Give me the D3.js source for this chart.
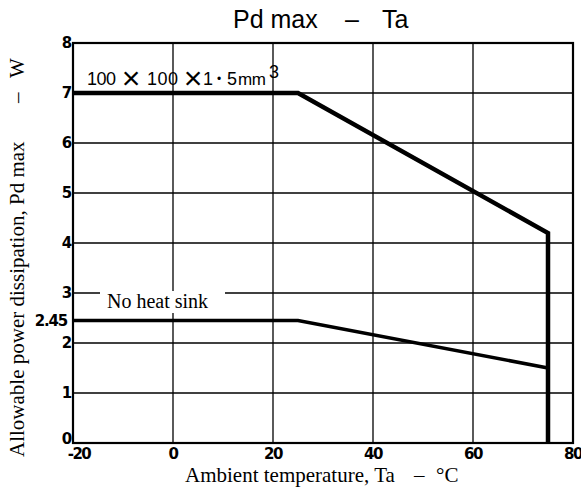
<!DOCTYPE html>
<html><head><meta charset="utf-8">
<script src="https://cdn.jsdelivr.net/npm/d3@7"></script>
<style>body{margin:0;background:#fff}</style>
</head><body>
<svg id="c" width="581" height="488"></svg>
<script>
const xTicks = [-20, 0, 20, 40, 60, 80];
const yTicks = [0, 1, 2, 3, 4, 5, 6, 7, 8];
const extraYTick = [2.45];
const heatsinkTa = [-20, 25, 75, 75];
const heatsinkPd = [7, 7, 4.2, 0];
const noSinkTa = [-20, 25, 75];
const noSinkPd = [2.45, 2.45, 1.5];

const svg = d3.select("#c");
const x = d3.scaleLinear().domain([-20, 80]).range([73, 573]);
const y = d3.scaleLinear().domain([0, 8]).range([443, 43]);
const serif = "'Liberation Serif', 'Times New Roman', serif";
const sans = "'Liberation Sans', Arial, sans-serif";

const g = svg.append("g");
// grid
g.selectAll(".vg").data(xTicks).join("line")
  .attr("x1", d => x(d)).attr("x2", d => x(d)).attr("y1", y(0)).attr("y2", y(8))
  .attr("stroke", "#000").attr("stroke-width", 1.3);
g.selectAll(".hg").data(yTicks).join("line")
  .attr("x1", x(-20)).attr("x2", x(80)).attr("y1", d => y(d)).attr("y2", d => y(d))
  .attr("stroke", "#000").attr("stroke-width", 1.3);
// frame
g.append("rect").attr("x", x(-20)).attr("y", y(8)).attr("width", x(80) - x(-20)).attr("height", y(0) - y(8))
  .attr("fill", "none").attr("stroke", "#000").attr("stroke-width", 2.2);

// tick labels
const tickFont = "'DejaVu Sans', sans-serif";
g.selectAll(".xl").data(xTicks).join("text")
  .attr("x", d => x(d) + (d === -20 ? 6 : 0)).attr("y", 459).attr("text-anchor", "middle")
  .attr("font-family", tickFont).attr("font-weight", "bold").attr("font-size", 15)
  .attr("letter-spacing", -1.5).text(d => d);
g.selectAll(".yl").data(yTicks.concat(extraYTick)).join("text")
  .attr("x", d => d === 2.45 ? 67 : 71).attr("y", d => y(d) + (d === 0 ? 1 : 5)).attr("text-anchor", "end")
  .attr("font-family", tickFont).attr("font-weight", "bold").attr("font-size", 15)
  .attr("letter-spacing", -1.2).text(d => d);

// curves
const line = d3.line().x(d => x(d[0])).y(d => y(d[1]));
g.append("path").datum(heatsinkTa.map((t, i) => [t, heatsinkPd[i]]))
  .attr("d", line).attr("fill", "none").attr("stroke", "#000").attr("stroke-width", 4.5).attr("stroke-linejoin", "miter");
g.append("path").datum(noSinkTa.map((t, i) => [t, noSinkPd[i]]))
  .attr("d", line).attr("fill", "none").attr("stroke", "#000").attr("stroke-width", 3.5);

// annotation: heat sink size  "100×100×1.5mm3"
const a = g.append("g").attr("font-family", sans).attr("fill", "#000");
const pieces = [
  {t: "100", x: 87, y: 85, fs: 18, ls: -0.5, anchor: "start"},
  {t: "×", x: 131, y: 89, fs: 32, ls: 0, anchor: "middle"},
  {t: "100", x: 147, y: 85, fs: 18, ls: 0.5, anchor: "start"},
  {t: "×", x: 193, y: 89, fs: 32, ls: 0, anchor: "middle"},
  {t: "1", x: 203, y: 85, fs: 18, ls: 0, anchor: "start"},
  {t: "•", x: 219, y: 83, fs: 12, ls: 0, anchor: "middle"},
  {t: "5", x: 227, y: 85, fs: 18, ls: 0, anchor: "start"},
  {t: "mm", x: 238, y: 85, fs: 17, ls: -0.5, anchor: "start"},
  {t: "3", x: 269, y: 78, fs: 18, ls: 0, anchor: "start"}
];
a.selectAll("text").data(pieces).join("text")
  .attr("x", d => d.x).attr("y", d => d.y).attr("font-size", d => d.fs)
  .attr("letter-spacing", d => d.ls).attr("text-anchor", d => d.anchor).text(d => d.t);

// annotation: no heat sink (white backing hides grid lines)
g.append("rect").attr("x", 100).attr("y", y(3) - 2).attr("width", 125).attr("height", 22).attr("fill", "#fff");
g.append("text").attr("x", 107).attr("y", 308)
  .attr("font-family", serif).attr("font-size", 20).text("No heat sink");

// title
const tt = svg.append("text").attr("y", 28).attr("font-family", sans).attr("font-size", 25);
tt.append("tspan").attr("x", 233).text("Pd max");
tt.append("tspan").attr("x", 345).text("–");
tt.append("tspan").attr("x", 382).text("Ta");

// x axis label
const xl = svg.append("text").attr("y", 482).attr("font-family", serif).attr("font-size", 21);
xl.append("tspan").attr("x", 185).text("Ambient temperature, Ta");
xl.append("tspan").attr("x", 414).text("–");
xl.append("tspan").attr("x", 436).text("°C");

// y axis label
const yl = svg.append("text").attr("transform", "translate(24,457) rotate(-90)")
  .attr("font-family", serif).attr("font-size", 21);
yl.append("tspan").attr("x", 0).text("Allowable power dissipation, Pd max");
yl.append("tspan").attr("x", 354).text("–");
yl.append("tspan").attr("x", 379).text("W");
</script>
</body></html>
